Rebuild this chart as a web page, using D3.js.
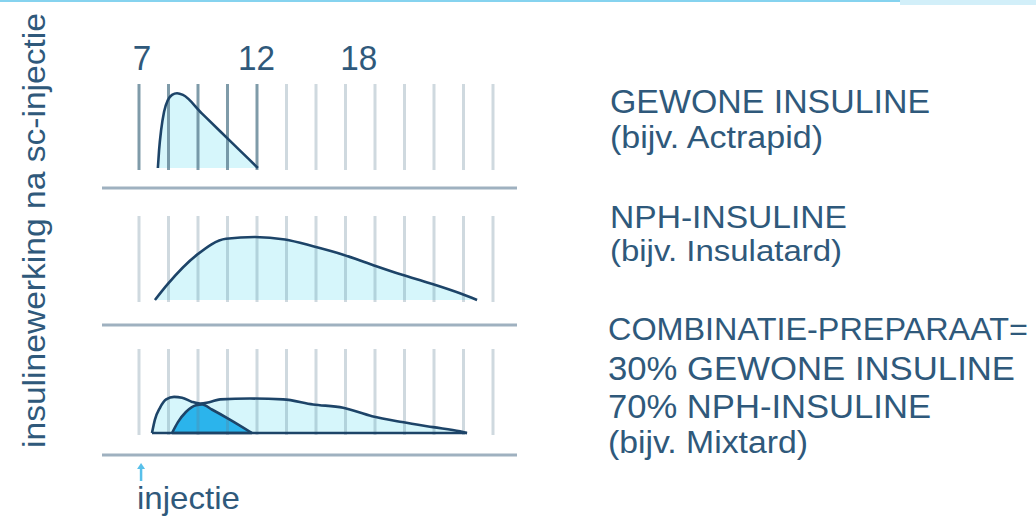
<!DOCTYPE html>
<html>
<head>
<meta charset="utf-8">
<script src="https://cdn.jsdelivr.net/npm/d3@7"></script>
<style>
  body { margin: 0; background: #fff; }
  svg { display: block; }
  text { font-family: "Liberation Sans", Arial, sans-serif; fill: #2f597b; }
</style>
</head>
<body>
<div id="chart"></div>
<script>
// x is in grid units: 13 vertical lines, 0..12
const tickLabels = ["7", "12", "18"];
const tickPos = [0.1, 3.98, 7.45];

// insulin action, 0..100 relative to panel height
const regularCurve = [[0.64,0],[0.68,21],[0.75,45],[0.85,67],[0.98,81],[1.12,87],[1.29,89],[1.49,87],[2.12,65.4],[2.75,43.8],[3.39,21.9],[4.03,0]];
const nphCurve = [[0.54,0],[0.95,18],[1.97,54],[2.95,73],[3.93,75],[4.95,72],[5.9,64],[6.92,54],[7.9,42],[8.92,30],[9.86,20],[10.88,8],[11.46,0]];
const mixCurve = [[0.44,0],[0.54,16],[0.71,30],[0.92,40],[1.19,43],[1.46,42],[1.8,37],[2.07,35],[2.41,37],[2.75,40],[3.76,41],[4.88,40],[5.9,34],[6.92,30],[7.9,20],[8.92,13],[9.97,7],[10.88,2],[11.12,0]];
const mixRegularCurve = [[1.12,0],[1.32,13],[1.59,25],[1.93,33],[2.14,34],[2.47,28],[3.08,16],[3.83,0]];

const yLabel = "insulinewerking na sc-injectie";
const injectLabel = "injectie";
const legendLines = [
  "GEWONE INSULINE", "(bijv. Actrapid)",
  "NPH-INSULINE", "(bijv. Insulatard)",
  "COMBINATIE-PREPARAAT=", "30% GEWONE INSULINE", "70% NPH-INSULINE", "(bijv. Mixtard)"
];

// layout
const W = 1036, H = 517;
const baselines = [168, 300, 433];
const separators = [188, 325, 455];
const legendY = [113, 148, 228, 261, 340, 380, 418, 453];
const legendX = [610, 610, 610, 610, 608, 608, 608, 608];
const legendLen = [320, 213, 237, 232, 420, 407, 323, 200];
const legendSize = [34, 31, 32, 29, 32, 34, 34, 31];

const svg = d3.select("#chart").append("svg").attr("width", W).attr("height", H);

// thin cyan strip along the top edge
svg.append("rect").attr("x", 0).attr("y", 0).attr("width", W).attr("height", 2).attr("fill", "#86d3ef");
svg.append("rect").attr("x", 900).attr("y", 0).attr("width", W - 900).attr("height", 5).attr("fill", "#d2eff9");

const x = d3.scaleLinear().domain([0, 12]).range([139, 493]);

function panel(i, curves) {
  const base = baselines[i];
  const y = d3.scaleLinear().domain([0, 100]).range([base, base - 84]);
  const g = svg.append("g");

  const area = d3.area().x(d => x(d[0])).y0(base).y1(d => y(d[1])).curve(d3.curveMonotoneX);
  const line = d3.line().x(d => x(d[0])).y(d => y(d[1])).curve(d3.curveMonotoneX);

  curves.forEach(c => {
    g.append("path").datum(c.data).attr("d", area).attr("fill", c.fill);
  });

  // vertical grid lines
  g.selectAll("line.grid").data(d3.range(13)).enter().append("line")
    .attr("class", "grid")
    .attr("x1", d => x(d)).attr("x2", d => x(d))
    .attr("y1", base - 84).attr("y2", base + 2)
    .attr("stroke", "#5f8294")
    .attr("stroke-opacity", d => (i === 0 && d <= 4) ? 0.8 : 0.3)
    .attr("stroke-width", 3);

  curves.forEach(c => {
    g.append("path").datum(c.data).attr("d", line)
      .attr("fill", "none").attr("stroke", "#1d4468").attr("stroke-width", 2.6);
    if (c.closed) {
      g.append("line").attr("x1", x(c.data[0][0])).attr("x2", x(c.data[c.data.length - 1][0]))
        .attr("y1", base).attr("y2", base).attr("stroke", "#1d4468").attr("stroke-width", 2.6);
    }
  });

  // separator under the panel
  svg.append("line").attr("x1", 102).attr("x2", 517)
    .attr("y1", separators[i]).attr("y2", separators[i])
    .attr("stroke", "#9fb1c0").attr("stroke-width", 3);
}

panel(0, [{ data: regularCurve, fill: "#d6f6fb" }]);
panel(1, [{ data: nphCurve, fill: "#d6f6fb" }]);
panel(2, [
  { data: mixCurve, fill: "#d6f6fb", closed: true },
  { data: mixRegularCurve, fill: "#2bb4ec", closed: true }
]);

// hour labels on top
svg.selectAll("text.tick").data(tickLabels).enter().append("text")
  .attr("class", "tick")
  .attr("x", (d, i) => x(tickPos[i]))
  .attr("y", 70)
  .attr("text-anchor", "middle")
  .attr("font-size", 35)
  .attr("textLength", d => d.length * 18.5)
  .attr("lengthAdjust", "spacingAndGlyphs")
  .text(d => d);

// y axis title
svg.append("text")
  .attr("transform", "translate(45,448) rotate(-90)")
  .attr("font-size", 31)
  .attr("textLength", 435)
  .attr("lengthAdjust", "spacingAndGlyphs")
  .text(yLabel);

// injection marker
svg.append("line").attr("x1", x(0.07)).attr("x2", x(0.07)).attr("y1", 467).attr("y2", 481)
  .attr("stroke", "#58c0ea").attr("stroke-width", 2.5);
svg.append("path")
  .attr("d", d3.line()([[x(0.07) - 4, 469], [x(0.07), 463], [x(0.07) + 4, 469]]))
  .attr("fill", "#58c0ea");
svg.append("text")
  .attr("x", 137).attr("y", 509)
  .attr("font-size", 32)
  .attr("textLength", 103)
  .attr("lengthAdjust", "spacingAndGlyphs")
  .text(injectLabel);

// legend
svg.selectAll("text.legend").data(legendLines).enter().append("text")
  .attr("class", "legend")
  .attr("x", (d, i) => legendX[i])
  .attr("y", (d, i) => legendY[i])
  .attr("font-size", (d, i) => legendSize[i])
  .attr("textLength", (d, i) => legendLen[i])
  .attr("lengthAdjust", "spacingAndGlyphs")
  .text(d => d);
</script>
</body>
</html>
